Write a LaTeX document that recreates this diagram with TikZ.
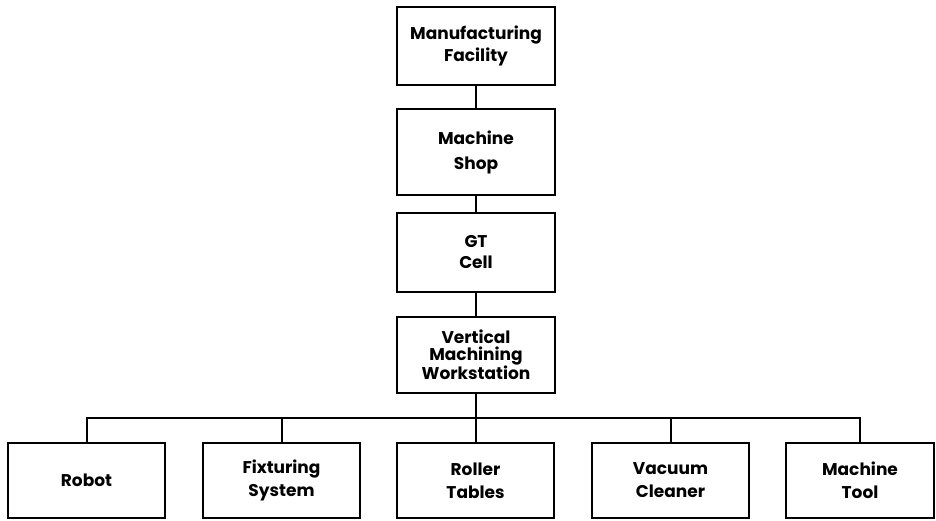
\documentclass[tikz,border=0pt]{standalone}
\usepackage{fontspec}
\setmainfont{Poppins}[BoldFont={* Bold}]
\begin{document}
\begin{tikzpicture}[x=1pt,y=-1pt,
  box/.style={draw,line width=2pt,minimum width=158pt,inner sep=0pt,align=center,
    font=\fontsize{17}{23}\selectfont\bfseries},
  link/.style={line width=2pt}]
\useasboundingbox (0,0) rectangle (936,521);
\node[box,minimum height=78pt,font=\fontsize{17}{22}\selectfont\bfseries] (mf) at (476,46) {Manufacturing\\Facility};
\node[box,minimum height=86pt,font=\fontsize{17}{25}\selectfont\bfseries] (ms) at (476,152) {Machine\\Shop};
\node[box,minimum height=79pt,font=\fontsize{17}{21}\selectfont\bfseries] (gt) at (476,252.5) {GT\\Cell};
\node[box,minimum height=76pt,font=\fontsize{17}{16.5}\selectfont\bfseries] (vm) at (476,355) {Vertical\\Machining\\Workstation};
\node[box,minimum height=75pt,minimum width=157pt] (rb) at (86.5,480.5) {Robot};
\node[box,minimum height=75pt,minimum width=157pt] (fx) at (281.5,480.5) {Fixturing\\System};
\node[box,minimum height=75pt,minimum width=157pt] (rt) at (475.5,480.5) {Roller\\Tables};
\node[box,minimum height=75pt,minimum width=157pt] (vc) at (670.5,480.5) {Vacuum\\Cleaner};
\node[box,minimum height=75pt,minimum width=148pt] (mt) at (860,480.5) {Machine\\Tool};
\coordinate (bus) at (476,418);
\draw[link] (mf) -- (ms);
\draw[link] (ms) -- (gt);
\draw[link] (gt) -- (vm);
\draw[link] (vm) -- (bus);
\draw[link] (bus) -| (rb.north);
\draw[link] (bus) -| (fx.north);
\draw[link] (bus) -| (rt.north);
\draw[link] (bus) -| (vc.north);
\draw[link] (bus) -| (mt.north);
\end{tikzpicture}
\end{document}
